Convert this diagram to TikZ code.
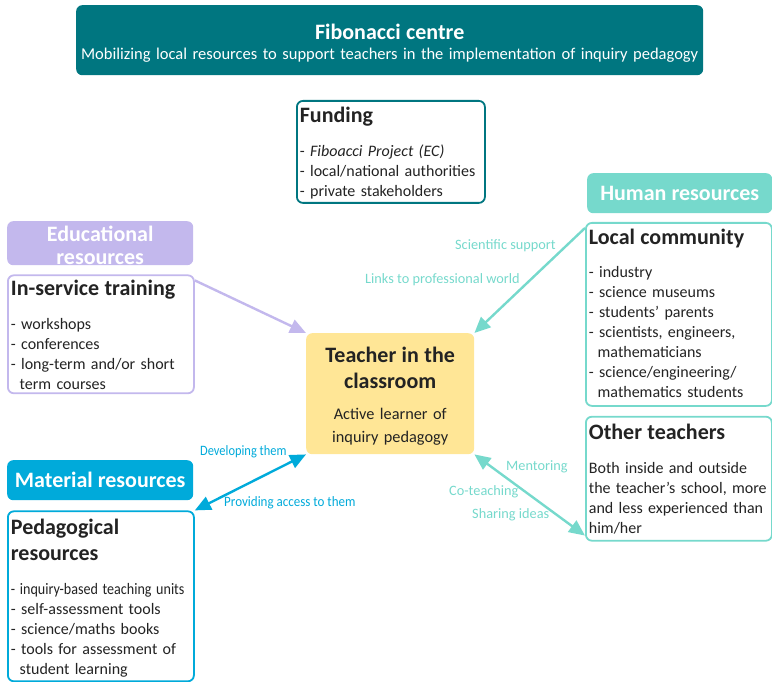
\documentclass[tikz,border=0pt]{standalone}
\usepackage{fontspec}
\setmainfont{Carlito}
\usetikzlibrary{arrows.meta, positioning}

\definecolor{fibteal}{RGB}{0,118,128}
\definecolor{edulilac}{RGB}{195,184,237}
\definecolor{humanturq}{RGB}{118,217,204}
\definecolor{matblue}{RGB}{0,170,218}
\definecolor{classyellow}{RGB}{255,230,150}
\definecolor{ink}{RGB}{35,35,35}

\newcommand{\boxtitle}{\fontsize{22}{22}\selectfont\bfseries}

\tikzstyle{headbox} = [rectangle, rounded corners=6pt, anchor=north west, text=white, align=center, inner sep=0pt, font=\bfseries\fontsize{22}{23.5}\selectfont]
\tikzstyle{resbox} = [rectangle, rounded corners=6pt, line width=1.8pt, draw, fill=white, anchor=north west, align=left, inner xsep=3pt, inner ysep=3pt, text=ink, font=\fontsize{16}{20}\selectfont]
\tikzstyle{tag} = [inner sep=0pt, font=\fontsize{14.3}{16}\selectfont]
\tikzstyle{arrow} = [line width=2.4pt, >={Triangle[length=16pt,width=14pt]}]

\begin{document}
\begin{tikzpicture}[x=1pt, y=-1pt]
\useasboundingbox (0,0) rectangle (772,682);

% Centre
\node (centre) [fill=fibteal, rounded corners=6pt, anchor=north west, text width=627pt, align=center, inner sep=0pt, text height=34pt, text depth=36pt, text=white, font=\fontsize{16.5}{20.5}\selectfont] at (76,5) {{\fontsize{22}{22}\selectfont\bfseries Fibonacci centre}\\
Mobilizing local resources to support teachers in the implementation of inquiry pedagogy};

\node (funding) [resbox, draw=fibteal, text width=182pt, text height=19pt, text depth=77pt] at (296,100) {{\boxtitle Funding}\\[14pt]
- \textit{Fiboacci Project (EC)}\\
- local/national authorities\\
- private stakeholders};

% Educational resources
\node (eduhead) [headbox, fill=edulilac, text width=186pt, text height=20pt, text depth=24pt] at (7,221) {Educational\\ resources};

\node (training) [resbox, draw=edulilac, text width=180pt, text height=17pt, text depth=95pt, below=9pt of eduhead.south west, anchor=north west] {{\boxtitle In-service training}\\[14pt]
- workshops\\
- conferences\\
- long-term and/or short\\
\hspace*{0.55em}term courses};

% Human resources
\node (humanhead) [headbox, fill=humanturq, minimum width=185pt, minimum height=40pt] at (587,173) {Human resources};

\node (localcom) [resbox, draw=humanturq, text width=180pt, text height=19pt, text depth=158pt] at (585,222) {{\boxtitle Local community}\\[13pt]
- industry\\
- science museums\\
- students' parents\\
- scientists, engineers,\\
\hspace*{0.55em}mathematicians\\
- science/engineering/\\
\hspace*{0.55em}mathematics students};

\node (others) [resbox, draw=humanturq, text width=180pt, text height=20pt, text depth=98pt, below=9pt of localcom.south west, anchor=north west] {{\boxtitle Other teachers}\\[14pt]
Both inside and outside the teacher's school, more and less experienced than him/her};

% Teacher
\node (teacher) [fill=classyellow, rounded corners=6pt, anchor=north west, text width=168pt, align=center, inner sep=0pt, text height=29pt, text depth=92pt, text=ink, font=\fontsize{16.3}{23}\selectfont] at (306,333) {{\fontsize{22}{22}\selectfont\bfseries Teacher in the}\\[3pt]
{\fontsize{22}{22}\selectfont\bfseries classroom}\\[8pt]
Active learner of\\
inquiry pedagogy};

% Material resources
\node (mathead) [headbox, fill=matblue, minimum width=186pt, minimum height=40pt] at (7,460) {Material resources};

\node (pedagog) [resbox, draw=matblue, text width=180pt, text height=20pt, text depth=144pt, below=10pt of mathead.south west, anchor=north west] {{\boxtitle Pedagogical}\\[6pt]
{\boxtitle resources}\\[14pt]
\scalebox{0.88}[1]{- inquiry-based teaching units}\\
- self-assessment tools\\
- science/maths books\\
- tools for assessment of\\
\hspace*{0.55em}student learning};

% Labels
\node (sci) [tag, text=humanturq, anchor=east] at (556,246) {Scientific support};
\node (links) [tag, text=humanturq, anchor=east] at (520,280) {Links to professional world};
\node (develop) [tag, text=matblue, anchor=west] at (200,452) {\scalebox{0.87}[1]{Developing them}};
\node (access) [tag, text=matblue, anchor=west] at (224,503) {\scalebox{0.91}[1]{Providing access to them}};
\node (mentor) [tag, text=humanturq, anchor=west] at (506,467) {Mentoring};
\node (coteach) [tag, text=humanturq, anchor=west] at (449,492) {Co-teaching};
\node (sharing) [tag, text=humanturq, anchor=west] at (472,515) {Sharing ideas};

% Links
\draw [arrow, edulilac, ->] ([yshift=-6pt]training.north east) -- (teacher.north west);
\draw [arrow, humanturq, ->] ([yshift=-6pt]localcom.north west) -- (teacher.north east);
\draw [arrow, matblue, <->] (teacher.south west) -- (pedagog.north east);
\draw [arrow, humanturq, <->] (teacher.south east) -- ([yshift=6pt]others.south west);

\end{tikzpicture}
\end{document}
